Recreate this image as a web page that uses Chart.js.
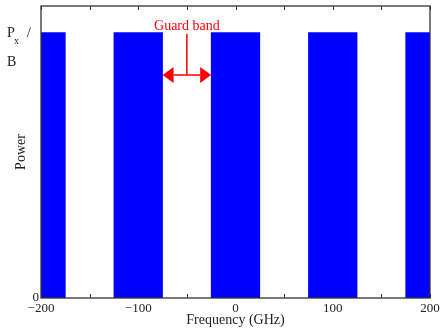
<!DOCTYPE html>
<html>
<head>
<meta charset="utf-8">
<script src="https://cdn.jsdelivr.net/npm/chart.js@4.4.1/dist/chart.umd.min.js"></script>
<style>
  html, body { margin: 0; padding: 0; background: #fff; }
  #wrap { width: 440px; height: 329px; }
</style>
</head>
<body>
<div id="wrap"><canvas id="chart" width="440" height="329"></canvas></div>
<script>
// channel centres (GHz) and their flat power level (in units of Px/B)
var freqCenters = [-200, -100, 0, 100, 200];
var powerLevels = [1, 1, 1, 1, 1];

// x axis: ticks every 50, labels only every 100
var xTickStep = 50;
var xLabelled = [-200, -100, 0, 100, 200];

// guard band annotation (GHz and power units)
var guardBand = [-75, -25];
var guardArrowLevel = 0.84;
var guardTextLevel = 1.025;

var serif = "'Liberation Serif', 'Times New Roman', serif";

var notes = {
    id: 'notes',
    beforeDatasetsDraw: function(chart) {
        var ctx = chart.ctx, a = chart.chartArea, xs = chart.scales.x;
        ctx.save();
        ctx.strokeStyle = '#333';
        ctx.lineWidth = 1;
        // inward ticks top and bottom
        xs.ticks.forEach(function(t) {
            var px = Math.round(xs.getPixelForValue(t.value)) + 0.5;
            ctx.beginPath();
            ctx.moveTo(px, a.bottom); ctx.lineTo(px, a.bottom - 4);
            ctx.moveTo(px, a.top); ctx.lineTo(px, a.top + 4);
            ctx.stroke();
        });
        ctx.restore();
    },
    afterDatasetsDraw: function(chart) {
        var ctx = chart.ctx, a = chart.chartArea;
        var xs = chart.scales.x, ys = chart.scales.y;
        ctx.save();

        // frame
        ctx.strokeStyle = '#333';
        ctx.lineWidth = 1.3;
        ctx.strokeRect(a.left, a.top, a.right - a.left, a.bottom - a.top);

        // Px / B tick label
        var yTop = ys.getPixelForValue(1);
        var lx = a.left - 34;
        ctx.fillStyle = '#222';
        ctx.textAlign = 'left';
        ctx.textBaseline = 'alphabetic';
        ctx.font = '14px ' + serif;
        ctx.fillText('P', lx, yTop + 4);
        ctx.fillText('/', lx + 20, yTop + 4);
        ctx.fillText('B', lx, yTop + 33);
        ctx.font = '10px ' + serif;
        ctx.fillText('x', lx + 7, yTop + 11);

        // guard band arrow
        var x0 = xs.getPixelForValue(guardBand[0]);
        var x1 = xs.getPixelForValue(guardBand[1]);
        var xm = xs.getPixelForValue((guardBand[0] + guardBand[1]) / 2);
        var ya = ys.getPixelForValue(guardArrowLevel);
        var yt = ys.getPixelForValue(guardTextLevel);
        var head = 11, half = 8;
        ctx.strokeStyle = '#ff0000';
        ctx.fillStyle = '#ff0000';
        ctx.lineWidth = 1.5;
        ctx.beginPath();
        ctx.moveTo(xm, yt + 8); ctx.lineTo(xm, ya);
        ctx.moveTo(x0 + head, ya); ctx.lineTo(x1 - head, ya);
        ctx.stroke();
        ctx.beginPath();
        ctx.moveTo(x0, ya); ctx.lineTo(x0 + head, ya - half); ctx.lineTo(x0 + head, ya + half);
        ctx.closePath(); ctx.fill();
        ctx.beginPath();
        ctx.moveTo(x1, ya); ctx.lineTo(x1 - head, ya - half); ctx.lineTo(x1 - head, ya + half);
        ctx.closePath(); ctx.fill();

        ctx.font = '14px ' + serif;
        ctx.textAlign = 'center';
        ctx.textBaseline = 'middle';
        ctx.fillText('Guard band', xm, yt);
        ctx.restore();
    }
};

new Chart(document.getElementById('chart'), {
    type: 'bar',
    data: {
        datasets: [{
            data: freqCenters.map(function(f, i) { return { x: f, y: powerLevels[i] }; }),
            backgroundColor: '#0000ff',
            borderWidth: 0,
            categoryPercentage: 1,
            barPercentage: 1
        }]
    },
    options: {
        responsive: false,
        animation: false,
        layout: { padding: { top: 6, right: 10, left: 0, bottom: 0 } },
        plugins: { legend: { display: false }, tooltip: { enabled: false } },
        scales: {
            x: {
                type: 'linear',
                min: -200, max: 200,
                offset: false,
                afterFit: function(s) { s.height = 31; s.paddingRight = 0; s.paddingLeft = 0; },
                grid: { display: false, drawTicks: false, offset: false },
                border: { display: false },
                ticks: {
                    stepSize: xTickStep,
                    autoSkip: false,
                    maxRotation: 0,
                    padding: 3,
                    color: '#222',
                    font: { family: serif, size: 13 },
                    callback: function(v) {
                        if (xLabelled.indexOf(v) < 0) return '';
                        return v < 0 ? '\u2212' + Math.abs(v) : String(v);
                    }
                },
                title: {
                    display: true,
                    text: 'Frequency (GHz)',
                    color: '#222',
                    font: { family: serif, size: 14 },
                    padding: { top: -2, bottom: 0 }
                }
            },
            y: {
                min: 0, max: 1.1,
                afterFit: function(s) { s.width = 41; s.paddingTop = 0; s.paddingBottom = 0; },
                afterBuildTicks: function(s) { s.ticks = [{ value: 0 }, { value: 1 }]; },
                grid: { display: false, drawTicks: false },
                border: { display: false },
                ticks: {
                    padding: 2,
                    color: '#222',
                    font: { family: serif, size: 13 },
                    callback: function(v) { return v === 0 ? '0' : ''; }
                },
                title: {
                    display: true,
                    text: 'Power',
                    color: '#222',
                    font: { family: serif, size: 14 },
                    padding: { top: 13, bottom: 0 }
                }
            }
        }
    },
    plugins: [notes]
});
</script>
</body>
</html>
